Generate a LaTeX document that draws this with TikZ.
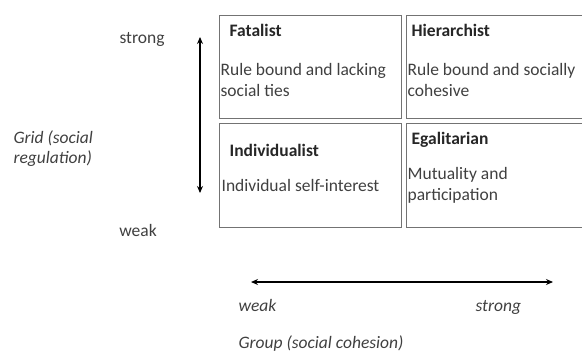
\documentclass[tikz,border=0pt]{standalone}
\usepackage{fontspec}
\setmainfont{Carlito}
\usetikzlibrary{arrows.meta}
\begin{document}
\begin{tikzpicture}[x=1pt, y=-1pt, >= {Stealth[length=7pt, width=6pt]}, line width=1.2pt,
    cell/.style={draw=black!55, line width=0.9pt, inner sep=0pt, anchor=north west},
    txt/.style={inner sep=0pt, text=black!75, font=\fontsize{17.5}{20.5}\selectfont, align=left},
    head/.style={txt, text=black!85, font=\fontsize{17.5}{20.5}\selectfont\bfseries, anchor=base west}]
  \useasboundingbox (0,0) rectangle (582,351);

  % the four cells
  \node[cell, minimum width=182pt, minimum height=103pt] (F) at (219, 15) {};
  \node[cell, minimum width=180pt, minimum height=103pt] (H) at (406, 15) {};
  \node[cell, minimum width=182pt, minimum height=104.5pt] (I) at (219, 122.5) {};
  \node[cell, minimum width=180pt, minimum height=104.5pt] (E) at (406, 122.5) {};

  \node[head] (Ft) at (229, 36) {Fatalist};
  \node[txt, anchor=north west] (Fb) at (220, 63) {Rule bound and lacking\\social ties};
  \node[head] (Ht) at (411, 36) {Hierarchist};
  \node[txt, anchor=north west] (Hb) at (407, 63) {Rule bound and socially\\cohesive};
  \node[head] (It) at (229, 156) {Individualist};
  \node[txt, anchor=base west] (Ib) at (221, 191) {Individual self-interest};
  \node[head] (Et) at (411, 144) {Egalitarian};
  \node[txt, anchor=north west] (Eb) at (407, 167) {Mutuality and\\participation};

  % grid axis
  \coordinate (gt) at (200, 37);
  \coordinate (gb) at (200, 193);
  \draw[<->] (gt) -- (gb);
  \node[txt, anchor=base] (gs) at (142, 43) {strong};
  \node[txt, anchor=base] (gw) at (138, 236) {weak};
  \node[txt, anchor=north west, font=\fontsize{17.5}{20.5}\selectfont\itshape] (gl) at (13, 130) {Grid (social\\regulation)};

  % group axis
  \coordinate (hl) at (251, 282);
  \coordinate (hr) at (553, 282);
  \draw[<->] (hl) -- (hr);
  \node[txt, anchor=base west, font=\fontsize{17.5}{20.5}\selectfont\itshape] (hw) at (238, 311) {weak};
  \node[txt, anchor=base west, font=\fontsize{17.5}{20.5}\selectfont\itshape] (hs) at (475, 311) {strong};
  \node[txt, anchor=base west, font=\fontsize{17.5}{20.5}\selectfont\itshape] (hg) at (238, 348) {Group (social cohesion)};
\end{tikzpicture}
\end{document}
